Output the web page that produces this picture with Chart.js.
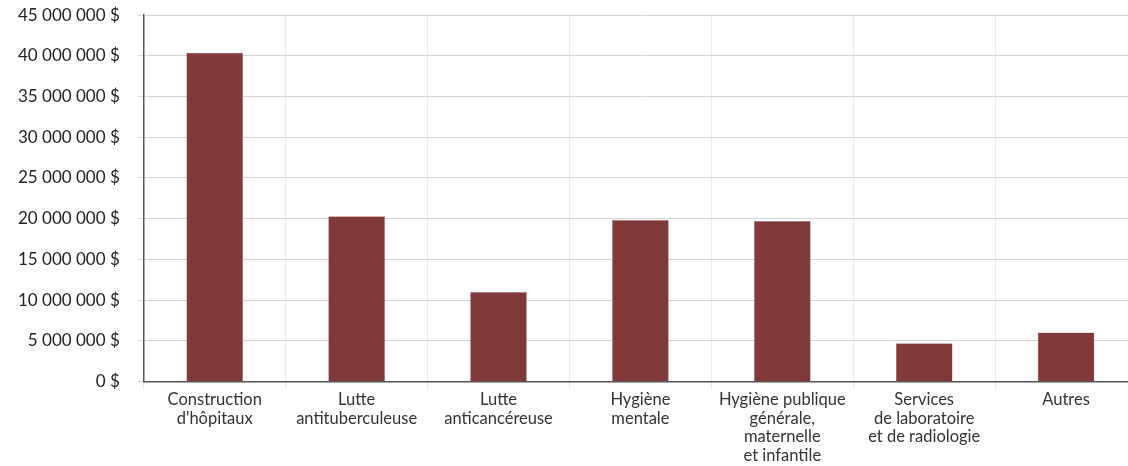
<!DOCTYPE html>
<html>
<head>
<meta charset="utf-8">
<script src="https://cdn.jsdelivr.net/npm/chart.js@4"></script>
<style>
  html, body { margin: 0; padding: 0; background: #fff; overflow: hidden; }
  #wrap { width: 1137px; height: 479px; margin-top: -13px; }
</style>
</head>
<body>
<div id="wrap"><canvas id="depensesChart"></canvas></div>
<script>
// Catégories (libellés sur plusieurs lignes)
const categories = [
  ["Construction", "d'hôpitaux"],
  ["Lutte", "antituberculeuse"],
  ["Lutte", "anticancéreuse"],
  ["Hygiène", "mentale"],
  ["Hygiène publique", "générale,", "maternelle", "et infantile"],
  ["Services", "de laboratoire", "et de radiologie"],
  ["Autres"]
];

// Montants en dollars
const montants = [40400000, 20300000, 11000000, 19850000, 19700000, 4700000, 6000000];

const yMax = 45000000;
const yStep = 5000000;

// "45 000 000 $"
function formatDollars(v) {
  return String(Math.round(v)).replace(/\B(?=(\d{3})+(?!\d))/g, " ") + " $";
}

const ctx = document.getElementById("depensesChart").getContext("2d");
new Chart(ctx, {
  type: "bar",
  data: {
    labels: categories,
    datasets: [
      {
        data: montants,
        backgroundColor: "#7f3a39",
        borderColor: "#b98a89",
        borderWidth: 0.5,
        barPercentage: 0.4,
        categoryPercentage: 1.0,
      },
    ],
  },
  options: {
    responsive: true,
    maintainAspectRatio: false,
    animation: false,
    layout: { padding: { top: 0, right: 0, left: 0, bottom: 0 } },
    plugins: {
      legend: { display: false },
      tooltip: { enabled: false },
    },
    scales: {
      x: {
        grid: {
          color: "#ebebeb",
          lineWidth: 1,
          offset: true,
          drawTicks: true,
          tickLength: 8,
        },
        border: { color: "#555", width: 1.5 },
        ticks: {
          color: "#333",
          font: { family: "Lato", size: 16.5, lineHeight: 1.13 },
          padding: 1,
          maxRotation: 0,
          autoSkip: false,
        },
      },
      y: {
        min: 0,
        max: yMax,
        grid: {
          color: "#d4d4d4",
          lineWidth: 1,
          tickLength: 6,
        },
        border: { color: "#555", width: 1.5 },
        ticks: {
          stepSize: yStep,
          color: "#222",
          font: { family: "Lato", size: 17 },
          padding: 18,
          callback: (v) => formatDollars(v),
        },
      },
    },
  },
});
</script>
</body>
</html>
